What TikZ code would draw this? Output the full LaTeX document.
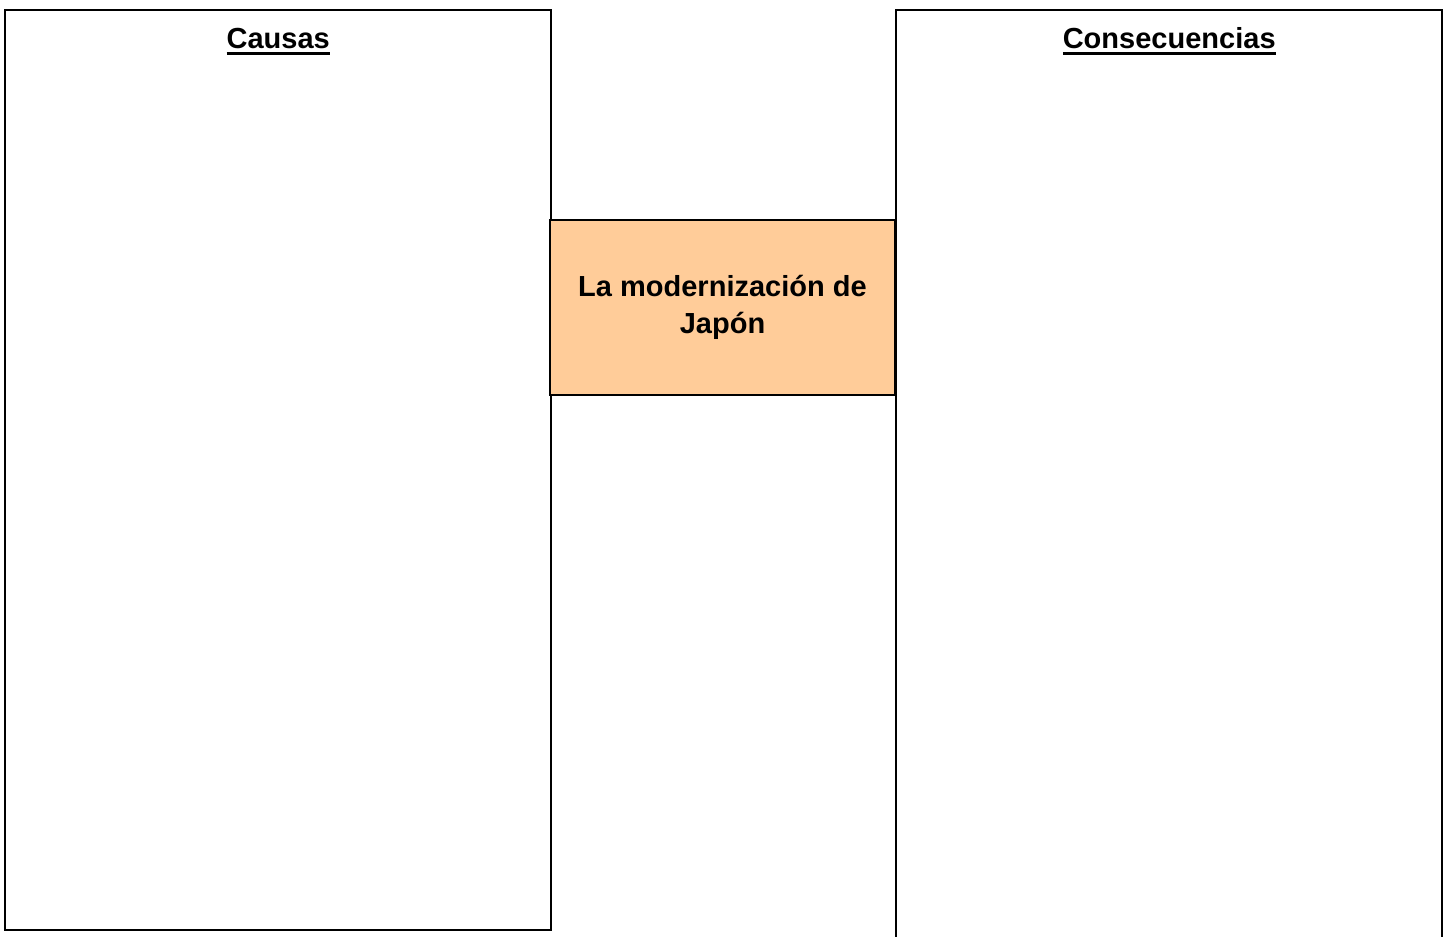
\documentclass[tikz,border=0pt]{standalone}
\usepackage{fontspec}
\setmainfont{Liberation Sans}
\usetikzlibrary{positioning}
\definecolor{peach}{HTML}{FFCC99}
\newcommand{\headrule}[1]{\setbox0\hbox{#1}\copy0\llap{\rule[-1.9pt]{\wd0}{0.7pt}}}

\begin{document}
\begin{tikzpicture}[x=0.01cm,y=-0.01cm,
  panel/.style={draw=black,line width=0.6pt,inner sep=0pt,minimum width=5.46cm,anchor=north west},
  heading/.style={font=\fontsize{8.25}{10.5}\selectfont\bfseries,inner sep=0pt,anchor=base},
  topic/.style={draw=black,fill=peach,line width=0.6pt,inner sep=0pt,
    minimum width=3.45cm,minimum height=1.75cm,align=center,
    font=\fontsize{8.25}{10.5}\selectfont\bfseries}]
 \clip (0,0) rectangle (1445,936);
 % panels
 \node[panel,minimum height=9.19cm] (causas) at (4,9) {};
 \node[panel,minimum height=9.45cm] (consec) at (895,9) {};
 % headings
 \node[heading] (tcausas) at ([yshift=-0.39cm]causas.north) {\headrule{Causas}};
 \node[heading] (tconsec) at ([yshift=-0.39cm]consec.north) {\headrule{Consecuencias}};
 % centre
 \node[topic] (tema) at (722.5,307.5) {La modernización de\\Japón};
\end{tikzpicture}
\end{document}
